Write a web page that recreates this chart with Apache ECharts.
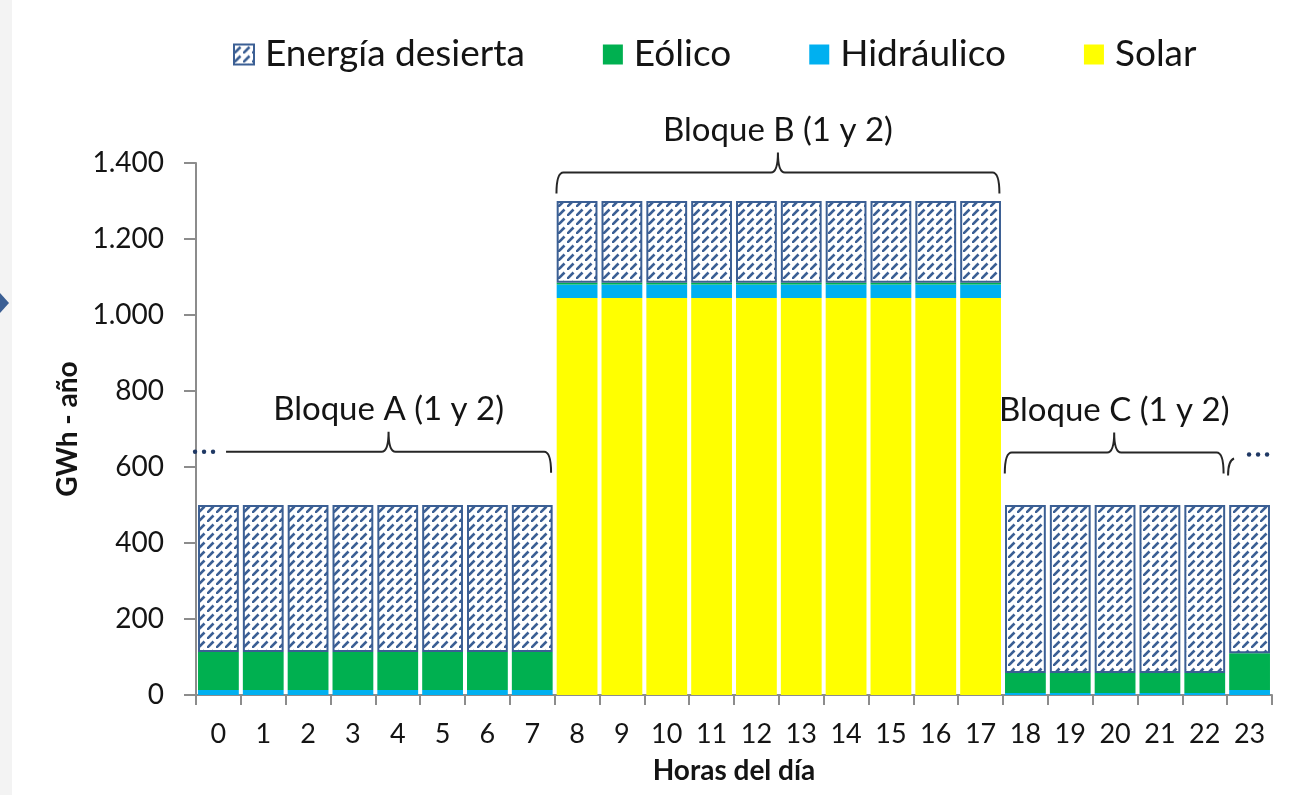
<!DOCTYPE html>
<html>
<head>
<meta charset="utf-8">
<script src="https://cdn.jsdelivr.net/npm/echarts@6/dist/echarts.min.js"></script>
<style>
  html, body { margin: 0; padding: 0; background: #fff; }
  #main { width: 1316px; height: 795px; }
</style>
</head>
<body>
<div id="main"></div>
<script>
// datos
var hours = ['0', '1', '2', '3', '4', '5', '6', '7', '8', '9', '10', '11',
  '12', '13', '14', '15', '16', '17', '18', '19', '20', '21', '22', '23']
var solar = [0, 0, 0, 0, 0, 0, 0, 0, 1045, 1045, 1045, 1045,
  1045, 1045, 1045, 1045, 1045, 1045, 0, 0, 0, 0, 0, 0]
var hidraulico = [13, 13, 13, 13, 13, 13, 13, 13, 35, 35, 35, 35,
  35, 35, 35, 35, 35, 35, 5, 5, 5, 5, 5, 13]
var eolico = [100, 100, 100, 100, 100, 100, 100, 100, 5, 5, 5, 5,
  5, 5, 5, 5, 5, 5, 53, 53, 53, 53, 53, 97]
var desierta = [387, 387, 387, 387, 387, 387, 387, 387, 215, 215, 215, 215,
  215, 215, 215, 215, 215, 215, 442, 442, 442, 442, 442, 390]
var yTicks = [0, 200, 400, 600, 800, 1000, 1200, 1400]

// bloques horarios (llaves)
var blockNames = ['Bloque A (1 y 2)', 'Bloque B (1 y 2)', 'Bloque C (1 y 2)', '']
var blockFirst = [0, 8, 18, 23]
var blockLast = [7, 17, 22, 23]
var blockLevel = [640, 1375, 638, 633]
var blockOpenLeft = [true, false, false, false]
var blockOpenRight = [false, false, false, true]

var colorSet = {
  solar: '#ffff00',
  hidro: '#00b0f0',
  eolico: '#00b050',
  hatch: '#3b5f94',
  text: '#141414',
  axis: '#8c8c8c',
}
var font = 'Lato, "Noto Sans", sans-serif'

// trama rayada
function makeHatch() {
  var c = document.createElement('canvas')
  c.width = 9
  c.height = 9
  var ctx = c.getContext('2d')
  ctx.fillStyle = '#ffffff'
  ctx.fillRect(0, 0, 9, 9)
  ctx.strokeStyle = colorSet.hatch
  ctx.lineWidth = 2.6
  ctx.beginPath()
  ctx.moveTo(0, 9)
  ctx.lineTo(6.5, 2.5)
  ctx.stroke()
  return c
}
var hatch = { image: makeHatch(), repeat: 'repeat' }

function thousands(v) {
  return String(v).replace(/\B(?=(\d{3})+(?!\d))/g, '.')
}

function renderBrace(params, api) {
  var i = params.dataIndex
  var band = api.size([1, 0])[0]
  var a = api.coord([api.value(0), api.value(2)])
  var b = api.coord([api.value(1), api.value(2)])
  var y = a[1]
  var h = 21, t = 20, r = 7
  var children = []
  var stroke = { fill: 'none', stroke: '#262626', lineWidth: 2 }

  if (blockOpenRight[i]) {
    // solo el arranque de la siguiente llave
    var x0 = a[0] - band * 0.48
    children.push({
      type: 'path',
      shape: { pathData: 'M' + x0 + ',' + (y + h) + ' Q' + x0 + ',' + (y + 6) + ' ' + (x0 + 6) + ',' + (y + 4) },
      style: stroke,
    })
    for (var k = 0; k < 3; k++) {
      children.push({ type: 'circle', shape: { cx: x0 + 21 + k * 9, cy: y, r: 2.2 }, style: { fill: '#1f3864' } })
    }
    return { type: 'group', children: children }
  }

  var xl = blockOpenLeft[i] ? a[0] + band * 0.17 : a[0] - band * 0.46
  var xr = b[0] + band * 0.42
  var xm = (xl + xr) / 2
  var d = ''
  if (blockOpenLeft[i]) {
    d += 'M' + xl + ',' + y
  } else {
    d += 'M' + xl + ',' + (y + h) + ' Q' + xl + ',' + y + ' ' + (xl + r) + ',' + y
  }
  d += ' L' + (xm - r) + ',' + y
  d += ' Q' + xm + ',' + y + ' ' + xm + ',' + (y - t)
  d += ' Q' + xm + ',' + y + ' ' + (xm + r) + ',' + y
  d += ' L' + (xr - r) + ',' + y
  d += ' Q' + xr + ',' + y + ' ' + xr + ',' + (y + h)
  children.push({ type: 'path', shape: { pathData: d }, style: stroke })

  if (blockOpenLeft[i]) {
    for (var j = 0; j < 3; j++) {
      children.push({ type: 'circle', shape: { cx: xl - 31 + j * 9, cy: y, r: 2.2 }, style: { fill: '#1f3864' } })
    }
  }
  children.push({
    type: 'text',
    x: xm,
    y: y - 42,
    style: {
      text: blockNames[i],
      fill: colorSet.text,
      fontFamily: font,
      fontSize: 33,
      align: 'center',
      verticalAlign: 'middle',
    },
  })
  return { type: 'group', children: children }
}

var braceData = blockNames.map(function (n, i) {
  return [blockFirst[i], blockLast[i], blockLevel[i]]
})

var chart = echarts.init(document.getElementById('main'), null, { renderer: 'canvas' })

var option = {
  animation: false,
  backgroundColor: '#ffffff',
  textStyle: { fontFamily: font },
  graphic: [
    { type: 'rect', shape: { x: 0, y: 0, width: 12, height: 795 }, style: { fill: '#f3f3f3' }, silent: true },
    { type: 'polygon', shape: { points: [[0, 293], [9, 303], [0, 313]] }, style: { fill: '#3b5f94' }, silent: true },
  ],
  legend: {
    data: ['Energía desierta', 'Eólico', 'Hidráulico', 'Solar'],
    left: 228,
    top: 31,
    icon: 'rect',
    itemWidth: 20,
    itemHeight: 20,
    itemGap: 78,
    textStyle: {
      fontFamily: font,
      fontSize: 37,
      color: colorSet.text,
      padding: [0, 0, 0, 6],
    },
  },
  grid: {
    left: 196,
    right: 44,
    top: 163,
    bottom: 100,
  },
  xAxis: {
    type: 'category',
    data: hours,
    name: 'Horas del día',
    nameLocation: 'middle',
    nameGap: 62,
    nameTextStyle: { fontFamily: font, fontSize: 28, fontWeight: 'bold', color: colorSet.text },
    axisLine: { lineStyle: { color: colorSet.axis, width: 2 } },
    axisTick: { show: true, length: 10, lineStyle: { color: colorSet.axis, width: 2 } },
    axisLabel: { fontFamily: font, fontSize: 27, color: colorSet.text, margin: 26 },
  },
  yAxis: {
    type: 'value',
    min: 0,
    max: 1400,
    interval: 200,
    name: 'GWh - año',
    nameLocation: 'middle',
    nameGap: 100,
    nameRotate: 90,
    nameTextStyle: { fontFamily: font, fontSize: 28, fontWeight: 'bold', color: colorSet.text },
    axisLine: { show: true, lineStyle: { color: colorSet.axis, width: 2 } },
    axisTick: { show: true, length: 12, lineStyle: { color: colorSet.axis, width: 2 } },
    splitLine: { show: false },
    axisLabel: {
      fontFamily: font,
      fontSize: 28,
      color: colorSet.text,
      margin: 32,
      formatter: function (v) {
        return yTicks.indexOf(v) >= 0 ? thousands(v) : ''
      },
    },
  },
  series: [
    {
      name: 'Solar',
      type: 'bar',
      stack: 'total',
      barCategoryGap: '9%',
      data: solar,
      itemStyle: { color: colorSet.solar },
    },
    {
      name: 'Hidráulico',
      type: 'bar',
      stack: 'total',
      data: hidraulico,
      itemStyle: { color: colorSet.hidro },
    },
    {
      name: 'Eólico',
      type: 'bar',
      stack: 'total',
      data: eolico,
      itemStyle: { color: colorSet.eolico },
    },
    {
      name: 'Energía desierta',
      type: 'bar',
      stack: 'total',
      data: desierta,
      itemStyle: { color: hatch, borderColor: colorSet.hatch, borderWidth: 2 },
    },
    {
      name: 'llaves',
      type: 'custom',
      renderItem: renderBrace,
      data: braceData,
      encode: { x: [0, 1], y: 2 },
      clip: false,
      silent: true,
      z: 10,
    },
  ],
}
chart.setOption(option)
</script>
</body>
</html>
